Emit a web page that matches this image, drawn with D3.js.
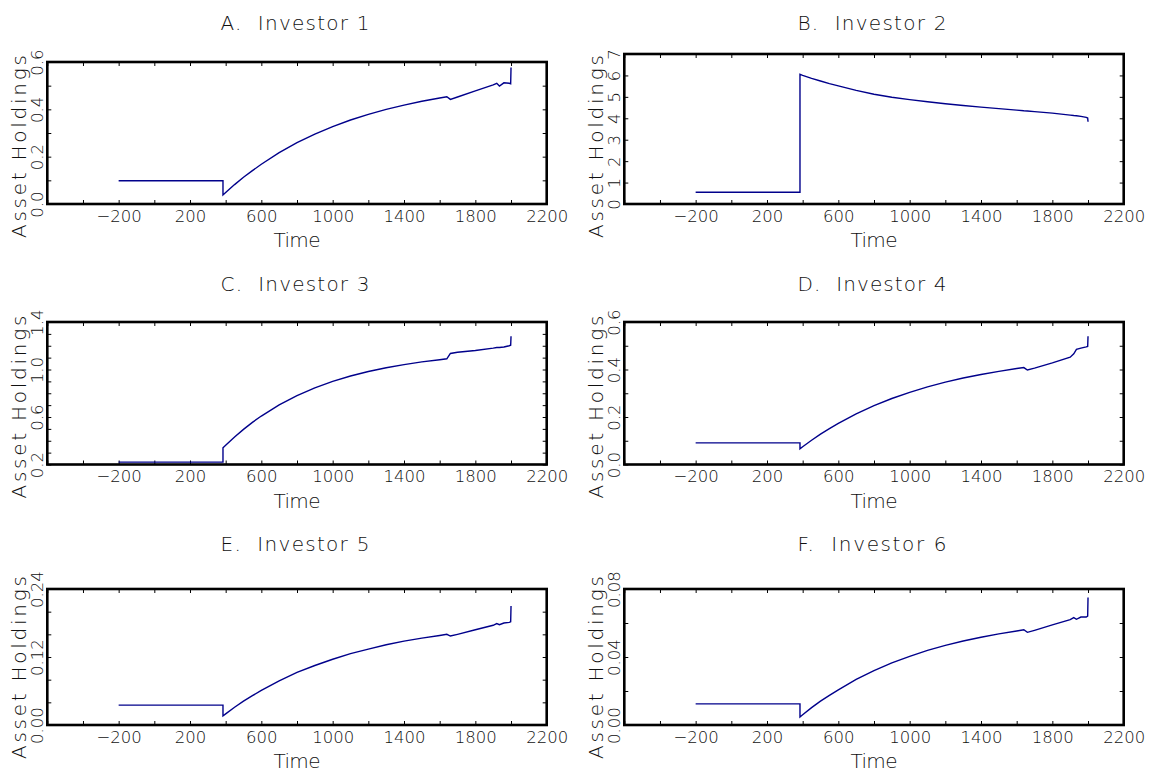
<!DOCTYPE html>
<html>
<head>
<meta charset="utf-8">
<title>Asset Holdings</title>
<script src="https://d3js.org/d3.v7.min.js"></script>
<style>
body { margin: 0; background: #fff; }
text { font-family: "DejaVu Sans", sans-serif; font-weight: 200; fill: #111; }
</style>
</head>
<body>
<div id="chart"></div>
<script>

// shared time grid (duplicate 385 = the jump)
const times = [-200, 385, 385, 400, 450, 500, 550, 600, 700, 800, 900, 1000, 1100, 1200, 1300,
               1400, 1500, 1600, 1640, 1660, 1700, 1800, 1900, 1920, 1935, 1960, 1990, 1998, 2000];

const investor1 = [0.098, 0.098, 0.038, 0.0485, 0.082, 0.113, 0.141, 0.168, 0.217, 0.259, 0.295, 0.327, 0.355, 0.379, 0.400,
                   0.418, 0.434, 0.448, 0.453, 0.442, 0.452, 0.478, 0.503, 0.510, 0.4985, 0.512, 0.510, 0.508, 0.577];
const investor2 = [0.55, 0.55, 6.05, 6.0, 5.86, 5.74, 5.62, 5.51, 5.30, 5.12, 4.98, 4.87, 4.77, 4.68, 4.60,
                   4.52, 4.45, 4.38, 4.35, 4.34, 4.31, 4.24, 4.15, 4.13, 4.12, 4.09, 4.04, 4.01, 3.84];
const investor3 = [0.22, 0.22, 0.34, 0.363, 0.432, 0.496, 0.555, 0.608, 0.702, 0.780, 0.845, 0.900, 0.945, 0.983, 1.015,
                   1.041, 1.064, 1.082, 1.09, 1.135, 1.145, 1.16, 1.18, 1.185, 1.185, 1.19, 1.20, 1.205, 1.28];
const investor4 = [0.091, 0.091, 0.066, 0.075, 0.102, 0.128, 0.151, 0.173, 0.2135, 0.248, 0.278, 0.304, 0.327, 0.347, 0.364,
                   0.379, 0.392, 0.404, 0.408, 0.398, 0.406, 0.428, 0.452, 0.466, 0.485, 0.49, 0.495, 0.497, 0.54];
const investor5 = [0.035, 0.035, 0.016, 0.0196, 0.0313, 0.042, 0.0517, 0.061, 0.078, 0.0927, 0.105, 0.116, 0.126, 0.134, 0.1416,
                   0.148, 0.1534, 0.158, 0.160, 0.157, 0.160, 0.168, 0.176, 0.179, 0.177, 0.180, 0.181, 0.182, 0.21];
const investor6 = [0.0124, 0.0124, 0.0047, 0.0060, 0.0102, 0.0140, 0.0174, 0.0207, 0.0268, 0.0320, 0.0365, 0.0404, 0.0439, 0.0468, 0.0494,
                   0.0516, 0.0536, 0.0553, 0.056, 0.0545, 0.0557, 0.0589, 0.0620, 0.0632, 0.0622, 0.0635, 0.0635, 0.064, 0.075];

const titles = ["A.  Investor 1", "B.  Investor 2", "C.  Investor 3", "D.  Investor 4", "E.  Investor 5", "F.  Investor 6"];
const series = [investor1, investor2, investor3, investor4, investor5, investor6];

const xDomain = [-600, 2200];
const xTicks = d3.range(-600, 2201, 200);
const xTickLabels = [-200, 200, 600, 1000, 1400, 1800, 2200];

const yDomains = [[0, 0.6], [0, 7], [0.2, 1.4], [0, 0.6], [0, 0.24], [0, 0.08]];
const yTickSteps = [0.1, 1, 0.1, 0.1, 0.04, 0.02];
const yTickLabels = [[0, 0.2, 0.4, 0.6], [0, 1, 2, 3, 4, 5, 6, 7], [0.2, 0.6, 1.0, 1.4],
                     [0, 0.2, 0.4, 0.6], [0, 0.12, 0.24], [0, 0.04, 0.08]];
const yFormats = [".1f", "d", ".1f", ".1f", ".2f", ".2f"];

// layout
const colLeft = [47.3, 624.3];
const rowBottom = [204, 464.5, 725];
const plotW = 499.4;
const frameH = [142, 150, 142.5, 142.5, 136, 136];

let svg = d3.select("#chart").append("svg")
  .attr("width", 1151).attr("height", 773);

series.forEach(function(vals, i) {
  let col = i % 2, row = Math.floor(i / 2);
  let left = colLeft[col], bottom = rowBottom[row], h = frameH[i];

  let g = svg.append("g").attr("transform", "translate(" + left + "," + (bottom - h) + ")");

  let x = d3.scaleLinear().domain(xDomain).range([0, plotW]);
  let y = d3.scaleLinear().domain(yDomains[i]).range([h, 0]);

  let yt = [];
  let n = Math.round((yDomains[i][1] - yDomains[i][0]) / yTickSteps[i]);
  for (let k = 0; k <= n; k++) yt.push(+(yDomains[i][0] + k * yTickSteps[i]).toFixed(4));

  let fmtY = d3.format(yFormats[i]);
  let hasLab = function(d) { return yTickLabels[i].some(function(v) { return Math.abs(v - d) < 1e-6; }); };

  // axes, ticks pointing inward
  g.append("g").attr("class", "ax")
    .attr("transform", "translate(0," + h + ")")
    .call(d3.axisBottom(x).tickValues(xTicks).tickSize(-4).tickPadding(6)
      .tickFormat(function(d) { return xTickLabels.indexOf(d) >= 0 ? d3.format("d")(d) : ""; }));

  g.append("g").attr("class", "ax")
    .call(d3.axisTop(x).tickValues(xTicks).tickSize(-4).tickFormat(""));

  g.append("g").attr("class", "ax")
    .attr("transform", "translate(" + plotW + ",0)")
    .call(d3.axisRight(y).tickValues(yt).tickSize(-4).tickFormat(""));

  let ly = g.append("g").attr("class", "ax")
    .call(d3.axisLeft(y).tickValues(yt).tickSize(-4)
      .tickFormat(function(d) { return hasLab(d) ? fmtY(d) : ""; }));

  ly.selectAll("text")
    .attr("x", null).attr("dy", null)
    .attr("text-anchor", "middle")
    .attr("transform", "translate(-4,0) rotate(-90)");

  g.selectAll(".ax path.domain").remove();
  g.selectAll(".ax line").attr("stroke", "#000").attr("stroke-width", 1);
  g.selectAll(".ax text").attr("font-size", 16.5).attr("fill", "#111")
    .attr("font-family", "DejaVu Sans, sans-serif");

  // the data line
  let line = d3.line()
    .x(function(d, k) { return x(times[k]); })
    .y(function(d) { return y(d); });

  g.append("path")
    .datum(vals)
    .attr("d", line)
    .attr("fill", "none")
    .attr("stroke", "#00008b")
    .attr("stroke-width", 1.4);

  // frame
  g.append("rect")
    .attr("width", plotW).attr("height", h)
    .attr("fill", "none").attr("stroke", "#000").attr("stroke-width", 2.6);

  // title
  svg.append("text")
    .attr("x", left + plotW / 2 - 2).attr("y", bottom - 174)
    .attr("text-anchor", "middle")
    .attr("font-size", 20)
    .attr("textLength", 149).attr("lengthAdjust", "spacing")
    .style("white-space", "pre")
    .text(titles[i]);

  // x label
  svg.append("text")
    .attr("x", left + plotW / 2).attr("y", bottom + 43)
    .attr("text-anchor", "middle")
    .attr("font-size", 20)
    .attr("textLength", 47).attr("lengthAdjust", "spacing")
    .text("Time");

  // y label
  svg.append("text")
    .attr("transform", "translate(" + (left - 21.8) + "," + (bottom + 34) + ") rotate(-90)")
    .attr("text-anchor", "start")
    .attr("font-size", 20)
    .attr("textLength", 183).attr("lengthAdjust", "spacing")
    .text("Asset Holdings");
});

</script>
</body>
</html>
